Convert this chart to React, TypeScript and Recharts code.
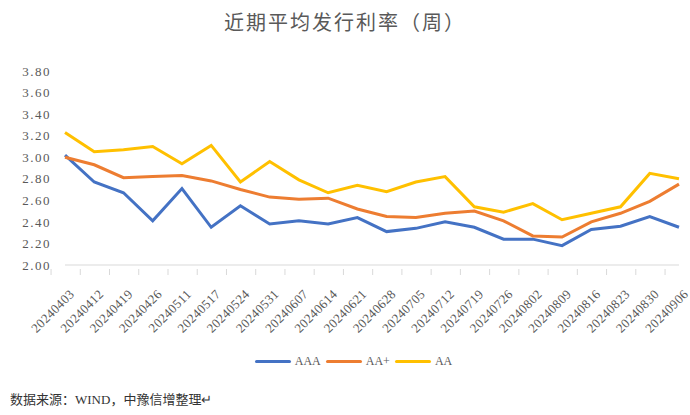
import { LineChart, Line, XAxis, YAxis, Legend } from 'recharts';

const dates = [
  '20240403', '20240412', '20240419', '20240426', '20240511', '20240517',
  '20240524', '20240531', '20240607', '20240614', '20240621', '20240628',
  '20240705', '20240712', '20240719', '20240726', '20240802', '20240809',
  '20240816', '20240823', '20240830', '20240906'
];
const aaa = [
  3.02, 2.77, 2.67, 2.41, 2.71, 2.35, 2.55, 2.38, 2.41, 2.38, 2.44,
  2.31, 2.34, 2.40, 2.35, 2.24, 2.24, 2.18, 2.33, 2.36, 2.45, 2.35
];
const aaPlus = [
  3.00, 2.93, 2.81, 2.82, 2.83, 2.78, 2.70, 2.63, 2.61, 2.62, 2.52,
  2.45, 2.44, 2.48, 2.50, 2.41, 2.27, 2.26, 2.40, 2.48, 2.59, 2.75
];
const aa = [
  3.23, 3.05, 3.07, 3.10, 2.94, 3.11, 2.77, 2.96, 2.79, 2.67, 2.74,
  2.68, 2.77, 2.82, 2.54, 2.49, 2.57, 2.42, 2.48, 2.54, 2.85, 2.80
];
const yTicks = [2.0, 2.2, 2.4, 2.6, 2.8, 3.0, 3.2, 3.4, 3.6, 3.8];
const seriesNames = ['AAA', 'AA+', 'AA'];
const seriesColors = ['#4472C4', '#ED7D31', '#FFC000'];

const data = dates.map((d, i) => ({ date: d, AAA: aaa[i], 'AA+': aaPlus[i], AA: aa[i] }));

const font = "'Liberation Serif', 'Noto Sans CJK SC', serif";
const grey = '#595959';

const DateTick = (props: any) => {
  const { x, y, payload, index } = props;
  const half = 13.95;
  return (
    <g>
      <line x1={x - half} y1={y - 4} x2={x - half} y2={y + 2} stroke='#d9d9d9' />
      {index === dates.length - 1 && (
        <line x1={x + half} y1={y - 4} x2={x + half} y2={y + 2} stroke='#d9d9d9' />
      )}
      <g transform={`translate(${x + 10},${y + 22})`}>
        <text transform='rotate(-45)' textAnchor='end' fill={grey} fontSize={13} fontFamily={font} letterSpacing={0.3}>
          {payload.value}
        </text>
      </g>
    </g>
  );
};

const LegendBox = () => (
  <div style={{ display: 'flex', justifyContent: 'center', paddingLeft: 22, fontFamily: font, fontSize: 12, color: grey }}>
    {seriesNames.map((n, i) => (
      <span key={n} style={{ display: 'inline-flex', alignItems: 'center', marginRight: 5 }}>
        <span style={{ display: 'inline-block', width: 36, height: 3, borderRadius: 2, background: seriesColors[i], marginRight: 4 }} />
        {n}
      </span>
    ))}
  </div>
);

export default function App() {
  return (
    <div style={{ position: 'absolute', left: 0, top: 0, width: 690, height: 415, background: '#fff' }}>
      <div style={{ position: 'absolute', top: 7, width: 690, textAlign: 'center', fontFamily: font, fontSize: 20, color: grey, letterSpacing: 2 }}>
        近期平均发行利率（周）
      </div>
      <LineChart width={690} height={415} data={data} margin={{ top: 71, right: 11, left: 0, bottom: 55 }}>
        <XAxis
          dataKey='date'
          interval={0}
          height={80}
          tickLine={false}
          axisLine={{ stroke: '#d9d9d9' }}
          tick={<DateTick />}
        />
        <YAxis
          domain={[2, 3.8]}
          ticks={yTicks}
          interval={0}
          width={65}
          axisLine={false}
          tickLine={false}
          tickFormatter={(v: number) => v.toFixed(2)}
          tick={{ fill: grey, fontSize: 13, fontFamily: font, letterSpacing: 1.5 }}
          tickMargin={8}
        />
        <Legend content={<LegendBox />} wrapperStyle={{ top: 354, left: 0, width: 690 }} />
        {seriesNames.map((n, i) => (
          <Line key={n} dataKey={n} stroke={seriesColors[i]} strokeWidth={3} dot={false} isAnimationActive={false} />
        ))}
      </LineChart>
      <div style={{ position: 'absolute', left: 10, top: 389, fontFamily: font, fontSize: 13, color: '#333' }}>
        数据来源：WIND，中豫信增整理↵
      </div>
    </div>
  );
}
